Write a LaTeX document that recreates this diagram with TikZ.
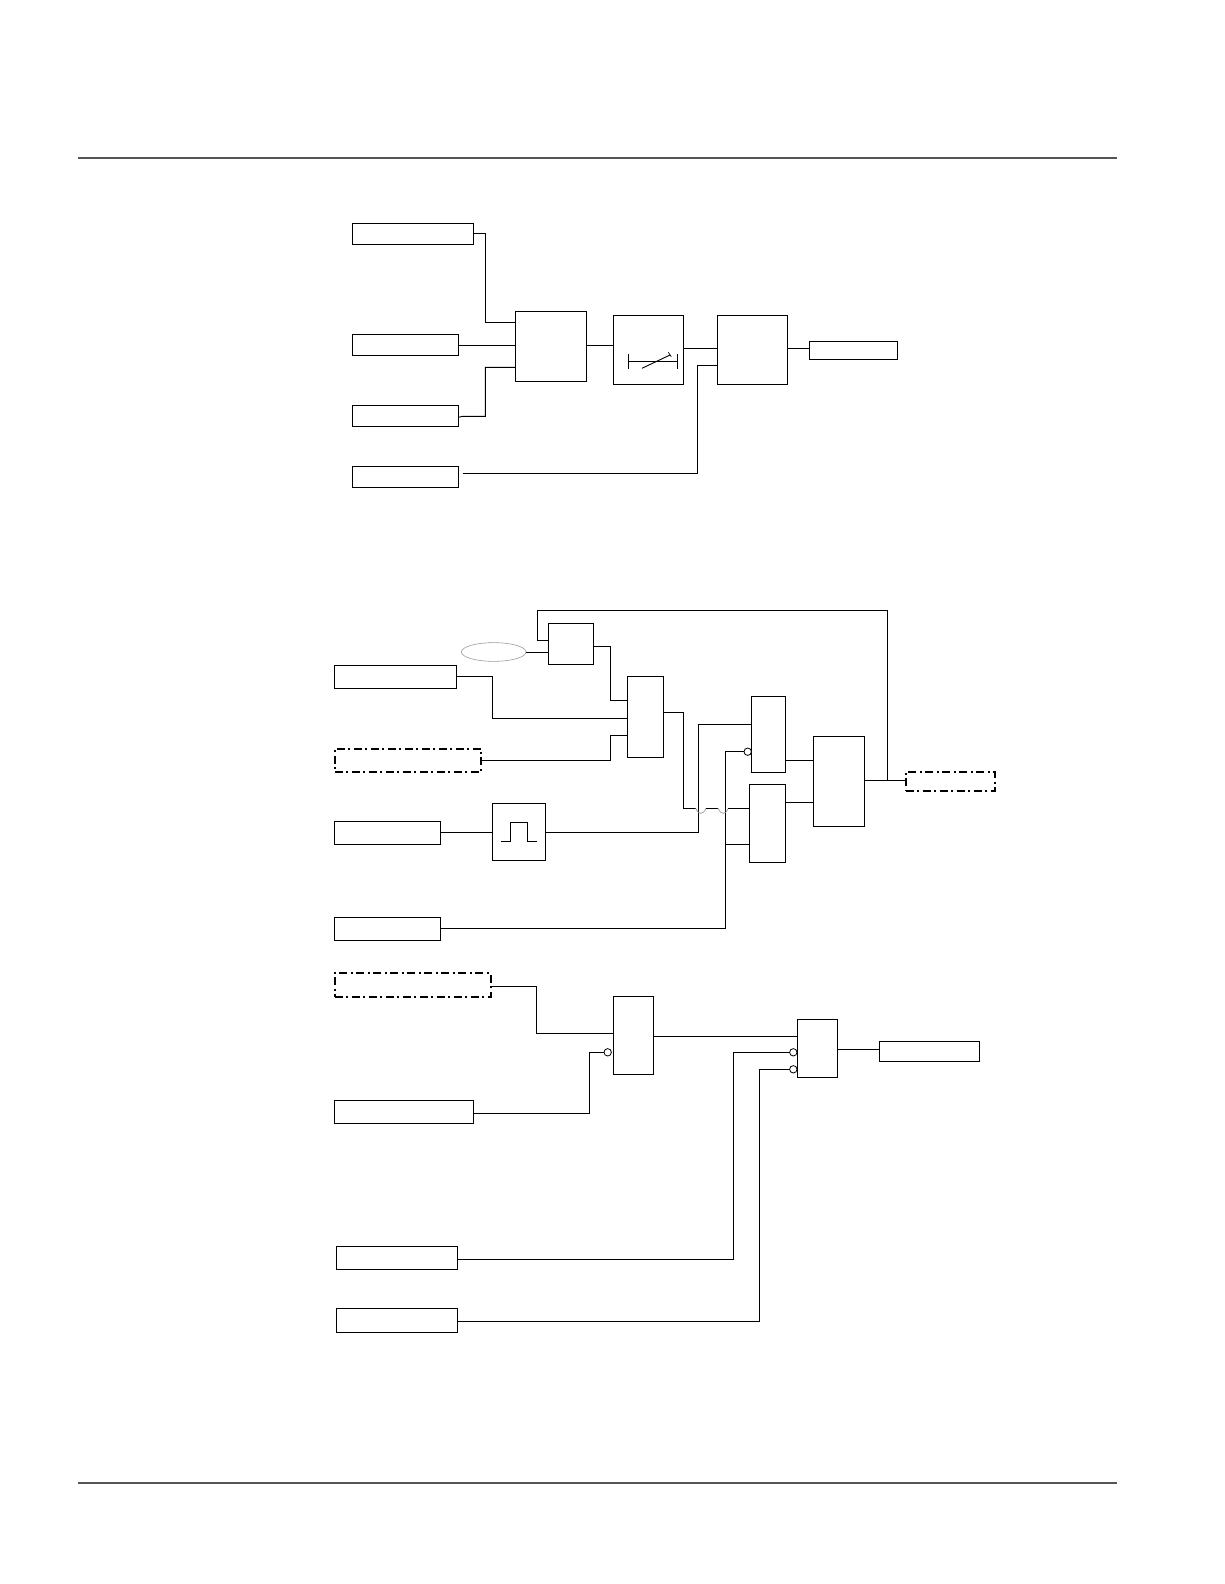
\documentclass[tikz,border=0pt]{standalone}
\usepackage{xcolor}
\usepackage{tikz}
\usetikzlibrary{shapes.geometric,calc}
\definecolor{rulegray}{HTML}{555555}
\definecolor{ovalgray}{HTML}{9a9a9a}
\tikzset{
  blockbox/.style={draw, line width=0.9pt, inner sep=0pt, outer sep=0pt, fill=white},
  dashbox/.style={blockbox, line width=1.7pt, dash pattern=on 8pt off 3.5pt on 2pt off 3.5pt},
  negdot/.style={circle, draw, line width=0.8pt, fill=white, inner sep=0pt, outer sep=0pt, minimum size=7.4pt},
  ovalbox/.style={ellipse, draw=ovalgray, line width=0.6pt, inner sep=0pt, outer sep=0pt},
  wire/.style={line width=0.9pt},
  jumpwire/.style={draw=ovalgray, line width=0.7pt}
}

\begin{document}
\begin{tikzpicture}[x=1pt, y=-1pt]
  \useasboundingbox (0,0) rectangle (1224,1584);

  % page rules
  \draw[rulegray, line width=2pt] (78,158) -- (1116.7,158);
  \draw[rulegray, line width=2pt] (78,1483) -- (1116.7,1483);

  % upper group
  \node[blockbox, minimum width=121pt, minimum height=21pt] (inA) at (412.8,233.8) {};
  \node[blockbox, minimum width=106pt, minimum height=21pt] (inB) at (405.3,344.8) {};
  \node[blockbox, minimum width=106pt, minimum height=21pt] (inC) at (405.3,415.8) {};
  \node[blockbox, minimum width=106pt, minimum height=21pt] (inD) at (405.3,476.8) {};
  \node[blockbox, minimum width=71pt, minimum height=70pt] (orA) at (550.8,346.3) {};
  \node[blockbox, minimum width=70.4pt, minimum height=69pt] (delayA) at (648.5,349.8) {};
  \node[blockbox, minimum width=70.4pt, minimum height=69pt] (andA) at (752.5,349.8) {};
  \node[blockbox, minimum width=88.4pt, minimum height=18pt] (outA) at (853.5,350.3) {};
  \coordinate (startD) at (462.7,473.3);

  \draw[wire] (inA.east |- 0,233.3) -- (485.3,233.3) |- (orA.west |- 0,322.3);
  \draw[wire] (inB.east |- 0,345.3) -- (orA.west |- 0,345.3);
  \draw[wire] (inC.east |- 0,417.3) -- (462.7,416.3) -- (485.3,416.3) |- (orA.west |- 0,367.3);
  \draw[wire] (orA.east |- 0,345) -- (delayA.west |- 0,345);
  \draw[wire] (delayA.east |- 0,348.3) -- (andA.west |- 0,348.3);
  \draw[wire] (startD) -- (697.3,473.3) |- (andA.west |- 0,365.3);
  \draw[wire] (andA.east |- 0,348.3) -- (outA.west |- 0,348.3);

  % delay symbol
  \draw[wire] (628.3,361.3) -- (677.3,361.3);
  \draw[wire] (628.3,354) -- (628.3,368.7);
  \draw[wire] (677.3,354) -- (677.3,368.7);
  \draw[wire] (642,368.3) -- (670,355);
  \draw[line width=0.7pt] (668.3,352.3) -- (671.3,356.7);

  % middle group
  \node[blockbox, minimum width=45.4pt, minimum height=41pt] (latch) at (571,643.8) {};
  \node[ovalbox, minimum width=64.7pt, minimum height=18.7pt] (oval) at (493.7,652) {};
  \node[blockbox, minimum width=122.4pt, minimum height=23pt] (inE) at (395.5,676.8) {};
  \node[dashbox, minimum width=146.3pt, minimum height=23.3pt] (inF) at (407.8,760.3) {};
  \node[blockbox, minimum width=106pt, minimum height=23pt] (inG) at (387.3,832.8) {};
  \node[blockbox, minimum width=53.4pt, minimum height=57pt] (pulse) at (519,831.8) {};
  \node[blockbox, minimum width=106pt, minimum height=23pt] (inH) at (387.3,928.8) {};
  \node[blockbox, minimum width=36pt, minimum height=81pt] (andB) at (645.3,716.8) {};
  \node[blockbox, minimum width=34.4pt, minimum height=76pt] (andC) at (768.5,734.3) {};
  \node[blockbox, minimum width=36.4pt, minimum height=78pt] (andD) at (767.5,823.3) {};
  \node[blockbox, minimum width=51pt, minimum height=90pt] (orB) at (838.8,781.3) {};
  \node[dashbox, minimum width=89pt, minimum height=19.6pt] (outB) at (950.2,781.5) {};
  \node[negdot] (negC) at (747.7,751.7) {};

  \draw[wire] (oval.east) -- (latch.west |- oval.east);
  \draw[wire] (latch.east |- 0,646.3) -- (610.3,646.3) |- (andB.west |- 0,700.3);
  \draw[wire] (inE.east |- 0,676.3) -- (492.3,676.3) |- (andB.west |- 0,718.3);
  \draw[wire] (inF.east |- 0,760.3) -- (610.3,760.3) |- (andB.west |- 0,735.7);
  \draw[wire] (inG.east |- 0,832.3) -- (pulse.west |- 0,832.3);
  \draw[wire] (pulse.east |- 0,832.3) -- (698.3,832.3) |- (andC.west |- 0,724.3);
  \draw[wire] (inH.east |- 0,928.3) -- (725.3,928.3) |- (negC.west);
  \draw[wire] (725.3,844.3) -- (andD.west |- 0,844.3);
  \draw[wire] (andC.east |- 0,760.3) -- (orB.west |- 0,760.3);
  \draw[wire] (andD.east |- 0,802.3) -- (orB.west |- 0,802.3);
  \draw[wire] (orB.east |- 0,780.3) -- (outB.west |- 0,780.3);

  % feedback to latch
  \draw[wire] (887.7,780.3) -- (887.7,610.3) -- (537.3,610.3) |- (latch.west |- 0,640.3);

  % crossing with two jumps
  \draw[wire] (andB.east |- 0,712.3) -- (683.3,712.3) |- (695.7,808.3);
  \draw[jumpwire] (695.7,808.3) .. controls (698.5,815) and (703,815) .. (706,808.3);
  \draw[wire] (706,808.3) -- (718,808.3);
  \draw[jumpwire] (718,808.3) .. controls (721,815) and (725.5,815) .. (728.3,808.3);
  \draw[wire] (728.3,808.3) -- (andD.west |- 0,808.3);

  % lower group
  \node[dashbox, minimum width=156pt, minimum height=23.7pt] (inI) at (412.7,984.8) {};
  \node[blockbox, minimum width=139pt, minimum height=23pt] (inJ) at (403.8,1111.8) {};
  \node[blockbox, minimum width=40pt, minimum height=78pt] (andE) at (633.3,1035.3) {};
  \node[blockbox, minimum width=40pt, minimum height=58pt] (andF) at (817.3,1048.3) {};
  \node[blockbox, minimum width=100pt, minimum height=20pt] (outC) at (929.3,1051.3) {};
  \node[blockbox, minimum width=121pt, minimum height=23pt] (inK) at (396.8,1257.8) {};
  \node[blockbox, minimum width=121pt, minimum height=24pt] (inL) at (396.8,1320.3) {};
  \node[negdot] (negE) at (607.7,1052.3) {};
  \node[negdot] (negFa) at (793.3,1052.3) {};
  \node[negdot] (negFb) at (793.3,1069.3) {};

  \draw[wire] (inI.east |- 0,986.3) -- (536.3,986.3) |- (andE.west |- 0,1033.3);
  \draw[wire] (inJ.east |- 0,1113.3) -- (589.3,1113.3) |- (negE.west);
  \draw[wire] (andE.east |- 0,1036.3) -- (andF.west |- 0,1036.3);
  \draw[wire] (inK.east |- 0,1259.3) -- (733.3,1259.3) |- (negFa.west);
  \draw[wire] (inL.east |- 0,1321) -- (759.3,1321) |- (negFb.west);
  \draw[wire] (andF.east |- 0,1049.3) -- (outC.west |- 0,1049.3);

  % pulse symbol
  \draw[wire] (501,841.3) -- (510.3,841.3) -- (510.3,822.3) -- (527.3,822.3) -- (527.3,841.3) -- (536.7,841.3);
\end{tikzpicture}
\end{document}
